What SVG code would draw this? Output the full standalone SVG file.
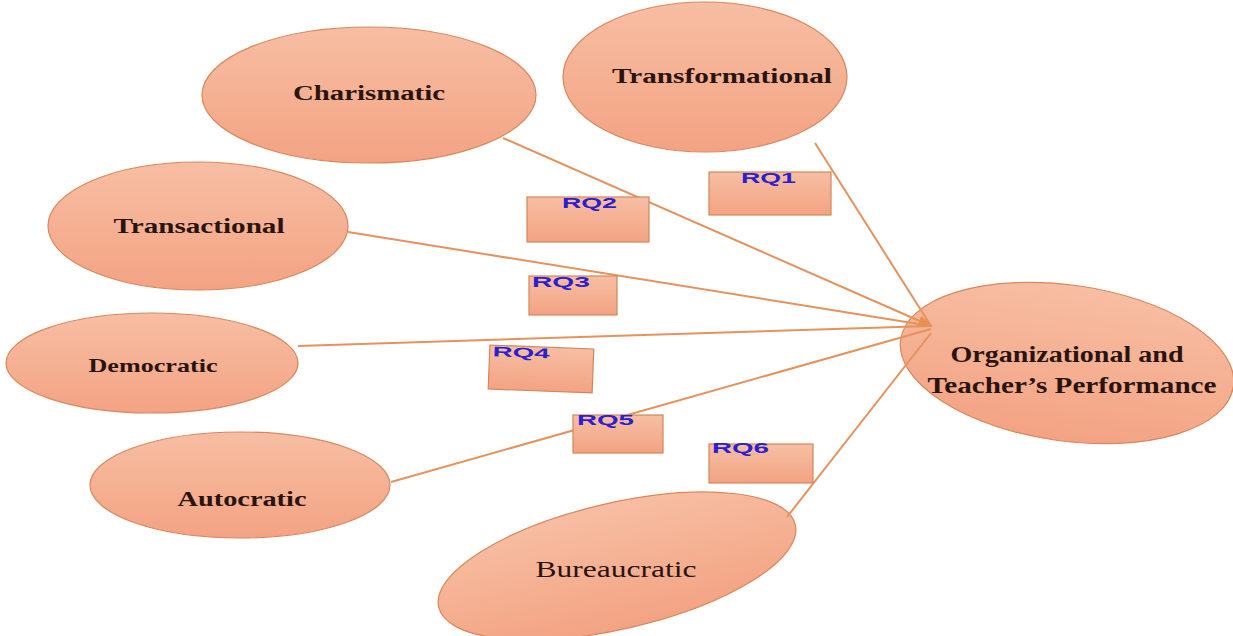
<svg xmlns="http://www.w3.org/2000/svg" width="1233" height="636" viewBox="0 0 1233 636">
<defs>
<linearGradient id="g" x1="0" y1="0" x2="0" y2="1">
<stop offset="0" stop-color="#f7bea3"/>
<stop offset="1" stop-color="#f3a383"/>
</linearGradient>
<marker id="arr" viewBox="0 0 12 10" refX="11" refY="5" markerWidth="14" markerHeight="12" markerUnits="userSpaceOnUse" orient="auto">
<path d="M0,1 L12,5 L0,9 Z" fill="#ec8f4e" stroke="#ec8f4e" stroke-width="1"/>
</marker>
</defs>
<style>
.n{fill:url(#g);stroke:#d9875c;stroke-width:1.2}
.t{font-family:"Liberation Serif",serif;font-weight:bold;fill:#2a1410;text-anchor:middle}
.b{font-family:"Liberation Serif",serif;font-weight:normal;fill:#2a1410;text-anchor:middle}
.r{fill:url(#g);stroke:#d08858;stroke-width:1.2}
.q{font-family:"Liberation Sans",sans-serif;font-weight:bold;font-size:14px;fill:#2b1fd0}
.c{stroke:#e6925c;stroke-width:2;fill:none}
</style>
<rect width="1233" height="636" fill="#ffffff"/>
<g id="charismatic"><ellipse class="n" cx="369" cy="95" rx="167" ry="68"/><text class="t" x="369" y="100" font-size="20" textLength="152" lengthAdjust="spacingAndGlyphs">Charismatic</text></g>
<g id="transformational"><ellipse class="n" cx="705" cy="77" rx="142" ry="75"/><text class="t" x="722" y="83" font-size="21" textLength="220" lengthAdjust="spacingAndGlyphs">Transformational</text></g>
<g id="transactional"><ellipse class="n" cx="198" cy="226" rx="150" ry="64"/><text class="t" x="199" y="233" font-size="21" textLength="171" lengthAdjust="spacingAndGlyphs">Transactional</text></g>
<g id="democratic"><ellipse class="n" cx="152" cy="363" rx="146" ry="50"/><text class="t" x="153" y="372" font-size="19" textLength="129" lengthAdjust="spacingAndGlyphs">Democratic</text></g>
<g id="autocratic"><ellipse class="n" cx="240" cy="485" rx="150" ry="53"/><text class="t" x="242" y="506" font-size="20" textLength="129" lengthAdjust="spacingAndGlyphs">Autocratic</text></g>
<g id="bureaucratic"><ellipse class="n" cx="617" cy="566" rx="183" ry="63" transform="rotate(-13 617 566)"/><text class="b" x="616" y="577" font-size="23" textLength="161" lengthAdjust="spacingAndGlyphs">Bureaucratic</text></g>
<g id="performance"><ellipse class="n" cx="1067" cy="363" rx="168" ry="78" transform="rotate(8 1067 363)"/><text class="t" x="1067" y="362" font-size="24" textLength="233" lengthAdjust="spacingAndGlyphs">Organizational and</text><text class="t" x="1072" y="393" font-size="24" textLength="289" lengthAdjust="spacingAndGlyphs">Teacher’s Performance</text></g>
<g id="connectors">
<line class="c" x1="503" y1="138" x2="931" y2="326" marker-end="url(#arr)"/>
<line class="c" x1="815" y1="143" x2="931" y2="326"/>
<line class="c" x1="348" y1="232" x2="931" y2="326" stroke-width="3.2"/>
<line class="c" x1="298" y1="346" x2="931" y2="326"/>
<line class="c" x1="391" y1="482" x2="931" y2="329"/>
<line class="c" x1="787" y1="517" x2="931" y2="333"/>
</g>
<g id="rq1"><rect class="r" x="709" y="172" width="122" height="43"/><text class="q" x="741" y="183" textLength="55" lengthAdjust="spacingAndGlyphs">RQ1</text></g>
<g id="rq2"><rect class="r" x="527" y="197" width="122" height="45"/><text class="q" x="562" y="208" textLength="55" lengthAdjust="spacingAndGlyphs">RQ2</text></g>
<g id="rq3"><rect class="r" x="529" y="276" width="88" height="39"/><text class="q" x="532" y="287" textLength="58" lengthAdjust="spacingAndGlyphs">RQ3</text></g>
<g id="rq4" transform="rotate(2.2 541 369)"><rect class="r" x="489" y="347" width="104" height="44"/><text class="q" x="492" y="358" textLength="57" lengthAdjust="spacingAndGlyphs">RQ4</text></g>
<g id="rq5"><rect class="r" x="573" y="415" width="90" height="38"/><text class="q" x="577" y="425" textLength="57" lengthAdjust="spacingAndGlyphs">RQ5</text></g>
<g id="rq6"><rect class="r" x="709" y="444" width="104" height="39"/><text class="q" x="712" y="453" textLength="57" lengthAdjust="spacingAndGlyphs">RQ6</text></g>
</svg>
